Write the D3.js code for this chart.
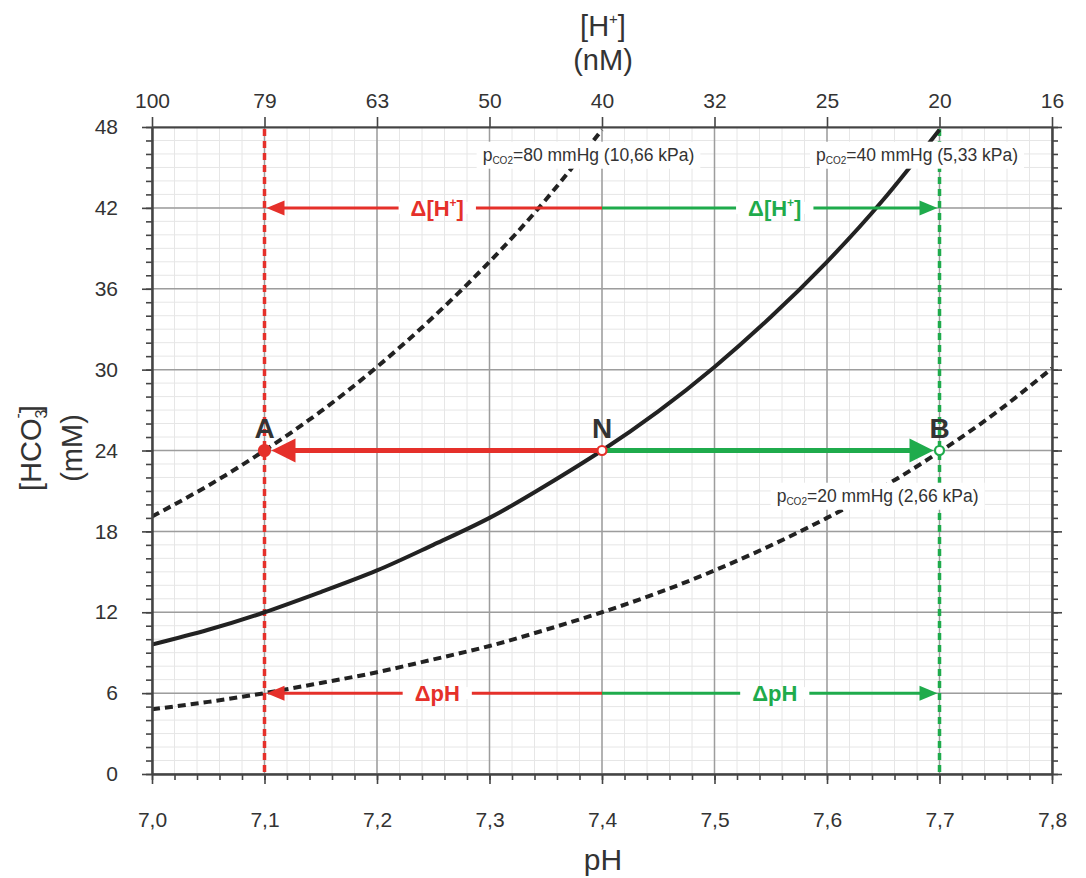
<!DOCTYPE html>
<html>
<head>
<meta charset="utf-8">
<script src="https://cdn.jsdelivr.net/npm/d3@7"></script>
<style>
  body { margin: 0; background: #fff; }
  svg { display: block; }
  text { font-family: "Liberation Sans", Arial, Helvetica, sans-serif; }
</style>
</head>
<body>
<svg id="chart" width="1086" height="878"></svg>
<script>
// pH axis (bottom) and matching [H+] labels (top, nM)
const phTicks = [7.0, 7.1, 7.2, 7.3, 7.4, 7.5, 7.6, 7.7, 7.8];
const hTickLabels = ['100', '79', '63', '50', '40', '32', '25', '20', '16'];
const hco3Ticks = [0, 6, 12, 18, 24, 30, 36, 42, 48];

// isobars, [HCO3-] in mM at each pH
const pHs = [7.00, 7.05, 7.10, 7.15, 7.20, 7.25, 7.30, 7.35, 7.40, 7.45, 7.50, 7.55, 7.60, 7.65, 7.70, 7.75, 7.80];
const pco2_80 = [19.1, 21.4, 24.0, 26.9, 30.2, 33.9, 38.0, 42.6, 47.8];
const pco2_40 = [9.6, 10.7, 12.0, 13.5, 15.1, 17.0, 19.0, 21.4, 24.0, 26.9, 30.2, 33.9, 38.0, 42.6, 47.8];
const pco2_20 = [4.8, 5.35, 6.0, 6.75, 7.55, 8.5, 9.5, 10.7, 12.0, 13.45, 15.1, 16.95, 19.0, 21.3, 23.9, 26.8, 30.1];

const curveLabels = [
    {text: '=80 mmHg (10,66 kPa)', ph: 7.388, hco3: 45.5},
    {text: '=40 mmHg (5,33 kPa)', ph: 7.68, hco3: 45.5},
    {text: '=20 mmHg (2,66 kPa)', ph: 7.645, hco3: 20.2}
];

const points = [
    {name: 'A', ph: 7.1, hco3: 24},
    {name: 'N', ph: 7.4, hco3: 24},
    {name: 'B', ph: 7.7, hco3: 24}
];
const normalPh = 7.4, acidPh = 7.1, alkPh = 7.7;
const rowHplus = 42, rowMid = 24, rowPh = 6;

const RED = '#e5302a', GREEN = '#1fab4c', INK = '#333';

const svg = d3.select('#chart');
const x = d3.scaleLinear().domain([7.0, 7.8]).range([152, 1052]);
const y = d3.scaleLinear().domain([0, 48]).range([774, 127]);
const fmt = d => d3.format('.1f')(d).replace('.', ',');

// grid
const grid = svg.append('g');
grid.selectAll('.vminor').data(d3.range(7.0, 7.801, 0.02)).enter().append('line')
    .attr('x1', d => x(d)).attr('x2', d => x(d)).attr('y1', y(0)).attr('y2', y(48))
    .attr('stroke', '#e6e6e6').attr('stroke-width', 1);
grid.selectAll('.hminor').data(d3.range(0, 49, 1)).enter().append('line')
    .attr('x1', x(7.0)).attr('x2', x(7.8)).attr('y1', d => y(d)).attr('y2', d => y(d))
    .attr('stroke', '#e6e6e6').attr('stroke-width', 1);
grid.selectAll('.vmajor').data(phTicks).enter().append('line')
    .attr('x1', d => x(d)).attr('x2', d => x(d)).attr('y1', y(0)).attr('y2', y(48))
    .attr('stroke', '#9d9d9d').attr('stroke-width', 1.5);
grid.selectAll('.hmajor').data(hco3Ticks).enter().append('line')
    .attr('x1', x(7.0)).attr('x2', x(7.8)).attr('y1', d => y(d)).attr('y2', d => y(d))
    .attr('stroke', '#9d9d9d').attr('stroke-width', 1.5);

// vertical dashed pH markers
[[acidPh, RED], [alkPh, GREEN]].forEach(([p, c]) => {
    svg.append('line')
        .attr('x1', x(p)).attr('x2', x(p)).attr('y1', y(48) + 2).attr('y2', y(0))
        .attr('stroke', c).attr('stroke-width', 3.5).attr('stroke-dasharray', '7,5');
});

// isobars
svg.append('clipPath').attr('id', 'plot').append('rect')
    .attr('x', x(7.0)).attr('y', y(48)).attr('width', x(7.8) - x(7.0)).attr('height', y(0) - y(48));
const line = d3.line().curve(d3.curveNatural)
    .x((d, i) => x(pHs[i])).y(d => y(d));
const curves = svg.append('g').attr('clip-path', 'url(#plot)');
curves.append('path').datum(pco2_40).attr('d', line)
    .attr('fill', 'none').attr('stroke', '#222').attr('stroke-width', 4);
[pco2_80, pco2_20].forEach(s => {
    curves.append('path').datum(s).attr('d', line)
        .attr('fill', 'none').attr('stroke', '#222').attr('stroke-width', 4)
        .attr('stroke-dasharray', '8,5');
});

// isobar labels on white boxes
curveLabels.forEach(l => {
    const g = svg.append('g');
    const bg = g.append('rect').attr('fill', '#fff');
    const t = g.append('text').attr('x', x(l.ph)).attr('y', y(l.hco3))
        .attr('text-anchor', 'middle').attr('font-size', 17.5).attr('fill', INK);
    t.append('tspan').text('p');
    t.append('tspan').attr('font-size', 10).attr('dy', 3).text('CO2');
    t.append('tspan').attr('dy', -3).text(l.text);
    const b = t.node().getBBox();
    bg.attr('x', b.x - 6).attr('y', b.y - 3).attr('width', b.width + 12).attr('height', b.height + 6);
});

// arrows
function arrow(x0, x1, yv, color, w, headLen, headHalf) {
    const dir = Math.sign(x1 - x0);
    const base = x1 - dir * headLen;
    svg.append('line').attr('x1', x0).attr('x2', base + dir).attr('y1', yv).attr('y2', yv)
        .attr('stroke', color).attr('stroke-width', w);
    svg.append('path').attr('d', `M${x1},${yv}L${base},${yv - headHalf}L${base},${yv + headHalf}Z`)
        .attr('fill', color);
}
function deltaLabel(cx, yv, color, kind) {
    const g = svg.append('g');
    const bg = g.append('rect').attr('fill', '#fff');
    const t = g.append('text').attr('x', cx).attr('y', yv + 8)
        .attr('text-anchor', 'middle').attr('font-size', 22).attr('font-weight', 'bold').attr('fill', color);
    if (kind === 'h') {
        t.append('tspan').text('Δ[H');
        t.append('tspan').attr('font-size', 12).attr('dy', -9).text('+');
        t.append('tspan').attr('dy', 9).text(']');
    } else {
        t.text('ΔpH');
    }
    const b = t.node().getBBox();
    bg.attr('x', b.x - 12).attr('y', yv - 6).attr('width', b.width + 24).attr('height', 12);
}

[rowHplus, rowPh].forEach(r => {
    arrow(x(normalPh), x(acidPh) + 2, y(r), RED, 3, 18, 7.5);
    arrow(x(normalPh), x(alkPh) - 2, y(r), GREEN, 3, 18, 7.5);
    const kind = r === rowHplus ? 'h' : 'p';
    deltaLabel((x(normalPh) + x(acidPh)) / 2 + 4, y(r), RED, kind);
    deltaLabel((x(normalPh) + x(alkPh)) / 2 + 4, y(r), GREEN, kind);
});
arrow(x(normalPh), x(acidPh) + 7, y(rowMid), RED, 5, 24, 12);
arrow(x(normalPh), x(alkPh) - 6, y(rowMid), GREEN, 5, 24, 12);

// points
const pStyle = {A: [RED, RED], N: ['#fff', RED], B: ['#fff', GREEN]};
points.forEach(p => {
    svg.append('circle').attr('cx', x(p.ph)).attr('cy', y(p.hco3))
        .attr('r', p.name === 'A' ? 5.5 : 4.5)
        .attr('fill', pStyle[p.name][0]).attr('stroke', pStyle[p.name][1]).attr('stroke-width', 2.2);
    svg.append('text').attr('x', x(p.ph)).attr('y', y(p.hco3) - 13)
        .attr('text-anchor', 'middle').attr('font-size', 28).attr('font-weight', 'bold')
        .attr('fill', INK).text(p.name);
});

// axes
function styleAxis(g) {
    g.selectAll('.domain').attr('stroke', '#444').attr('stroke-width', 2);
    g.selectAll('.tick line').attr('stroke', '#444').attr('stroke-width', 1.6);
    g.selectAll('.tick text').attr('fill', INK).attr('font-size', 21)
        .attr('font-family', '"Liberation Sans", Arial, sans-serif');
}
const minorPh = d3.range(7.0, 7.801, 0.02);
const minorHco3 = d3.range(0, 49, 1);

svg.append('g').attr('transform', `translate(0,${y(0)})`)
    .call(d3.axisBottom(x).tickValues(minorPh).tickSize(6).tickSizeOuter(0).tickFormat(''))
    .call(styleAxis);
svg.append('g').attr('transform', `translate(0,${y(0)})`)
    .call(d3.axisBottom(x).tickValues(phTicks).tickSize(10).tickSizeOuter(0).tickPadding(28).tickFormat(fmt))
    .call(styleAxis);
svg.append('g').attr('transform', `translate(0,${y(48)})`)
    .call(d3.axisTop(x).tickValues(phTicks).tickSize(10).tickSizeOuter(0).tickPadding(9)
        .tickFormat((d, i) => hTickLabels[i]))
    .call(styleAxis);
svg.append('g').attr('transform', `translate(${x(7.0)},0)`)
    .call(d3.axisLeft(y).tickValues(minorHco3).tickSize(6).tickSizeOuter(0).tickFormat(''))
    .call(styleAxis);
svg.append('g').attr('transform', `translate(${x(7.0)},0)`)
    .call(d3.axisLeft(y).tickValues(hco3Ticks).tickSize(10).tickSizeOuter(0).tickPadding(24))
    .call(styleAxis);
svg.append('g').attr('transform', `translate(${x(7.8)},0)`)
    .call(d3.axisRight(y).tickValues(minorHco3).tickSize(6).tickSizeOuter(0).tickFormat(''))
    .call(styleAxis);
svg.append('g').attr('transform', `translate(${x(7.8)},0)`)
    .call(d3.axisRight(y).tickValues(hco3Ticks).tickSize(10).tickSizeOuter(0).tickFormat(''))
    .call(styleAxis);

// axis titles
const topTitle = svg.append('text').attr('x', 603).attr('y', 36)
    .attr('text-anchor', 'middle').attr('font-size', 29).attr('fill', INK);
topTitle.append('tspan').text('[H');
topTitle.append('tspan').attr('font-size', 15).attr('dy', -12).text('+');
topTitle.append('tspan').attr('dy', 12).text(']');
svg.append('text').attr('x', 603).attr('y', 70)
    .attr('text-anchor', 'middle').attr('font-size', 29).attr('fill', INK).text('(nM)');
svg.append('text').attr('x', 603).attr('y', 870)
    .attr('text-anchor', 'middle').attr('font-size', 30).attr('fill', INK).text('pH');

const leftTitle = svg.append('text').attr('transform', 'translate(41,448) rotate(-90)')
    .attr('text-anchor', 'middle').attr('font-size', 29).attr('fill', INK);
leftTitle.append('tspan').text('[HCO');
leftTitle.append('tspan').attr('font-size', 16).attr('dy', 6).text('3');
leftTitle.append('tspan').attr('font-size', 16).attr('dx', -9).attr('dy', -24).text('-');
leftTitle.append('tspan').attr('dy', 18).text(']');
svg.append('text').attr('transform', 'translate(82,448) rotate(-90)')
    .attr('text-anchor', 'middle').attr('font-size', 29).attr('fill', INK).text('(mM)');
</script>
</body>
</html>
